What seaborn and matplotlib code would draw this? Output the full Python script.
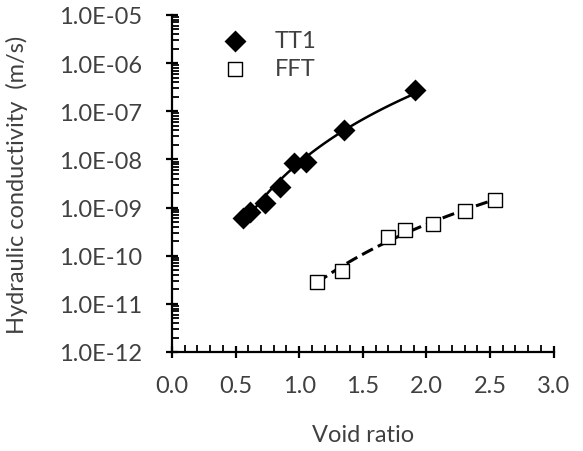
import numpy as np
import seaborn as sns
import matplotlib.pyplot as plt
import matplotlib.ticker as mticker

# valori
tt1_void = [0.56, 0.61, 0.73, 0.85, 0.96, 1.05, 1.35, 1.91]
tt1_k = [6.2e-10, 7.9e-10, 1.25e-9, 2.7e-9, 8.4e-9, 8.8e-9, 4.1e-8, 2.8e-7]

fft_void = [1.14, 1.34, 1.70, 1.83, 2.05, 2.30, 2.54]
fft_k = [2.9e-11, 4.8e-11, 2.45e-10, 3.5e-10, 4.5e-10, 8.3e-10, 1.45e-9]

x_ticks = [0.0, 0.5, 1.0, 1.5, 2.0, 2.5, 3.0]
y_ticks = [1e-12, 1e-11, 1e-10, 1e-9, 1e-8, 1e-7, 1e-6, 1e-5]

text_col = '#404040'
fs = 17

sns.set_theme(style="ticks")
plt.rcParams['font.family'] = ['Lato', 'DejaVu Sans']

fig = plt.figure(figsize=(5.83, 4.52), dpi=100)
ax = fig.add_axes([172 / 583, 1 - 353 / 452, 381.6 / 583, 337 / 452])


def power_fit(x, y):
    # trendline di tipo potenza, come in Excel
    b, a = np.polyfit(np.log10(x), np.log10(y), 1)
    xs = np.linspace(min(x), max(x), 100)
    return xs, 10 ** (a + b * np.log10(xs))


xs, ys = power_fit(tt1_void, tt1_k)
ax.plot(xs, ys, color='black', lw=1.8, zorder=2)
xs, ys = power_fit(fft_void, fft_k)
ax.plot(xs, ys, color='black', lw=2.2, ls=(0, (4, 1.8)), zorder=2)

sns.scatterplot(x=tt1_void, y=tt1_k, marker='D', s=125, color='black',
                edgecolor='black', linewidth=0, label='TT1', ax=ax, zorder=3)
sns.scatterplot(x=fft_void, y=fft_k, marker='s', s=90, facecolor='white',
                edgecolor='black', linewidth=1.0, label='FFT', ax=ax, zorder=3)

ax.set_yscale('log')
ax.set_xlim(0, 3)
ax.set_ylim(1e-12, 1e-5)
ax.set_xticks(x_ticks)
ax.set_yticks(y_ticks)
ax.xaxis.set_minor_locator(mticker.MultipleLocator(0.1))
ax.yaxis.set_minor_locator(mticker.LogLocator(base=10, subs=np.arange(2, 10)))
ax.yaxis.set_minor_formatter(mticker.NullFormatter())
ax.xaxis.set_major_formatter(mticker.FormatStrFormatter('%.1f'))
ax.yaxis.set_major_formatter(mticker.FuncFormatter(lambda v, p: f'{v:.1E}'))

for side in ['top', 'right']:
    ax.spines[side].set_visible(False)
for side in ['left', 'bottom']:
    ax.spines[side].set_linewidth(1.6)
    ax.spines[side].set_color('black')

ax.tick_params(which='major', direction='inout', length=9, width=1.6, color='black',
               labelsize=fs, labelcolor=text_col)
ax.tick_params(axis='y', which='major', pad=17)
ax.tick_params(axis='x', which='major', pad=12)
ax.tick_params(which='minor', direction='in', length=5, width=1.3, color='black')

ax.set_xlabel('Void ratio', fontsize=fs, color=text_col, labelpad=20)
ax.set_ylabel('Hydraulic conductivity  (m/s)', fontsize=fs, color=text_col, labelpad=22)

leg = ax.legend(loc='upper left', bbox_to_anchor=(0.134, 0.955), frameon=False,
                fontsize=fs, handlelength=1.0, handletextpad=1.2, labelspacing=0.3,
                borderaxespad=0, borderpad=0)
for t in leg.get_texts():
    t.set_color(text_col)

fig.savefig('out.png', dpi=100)
